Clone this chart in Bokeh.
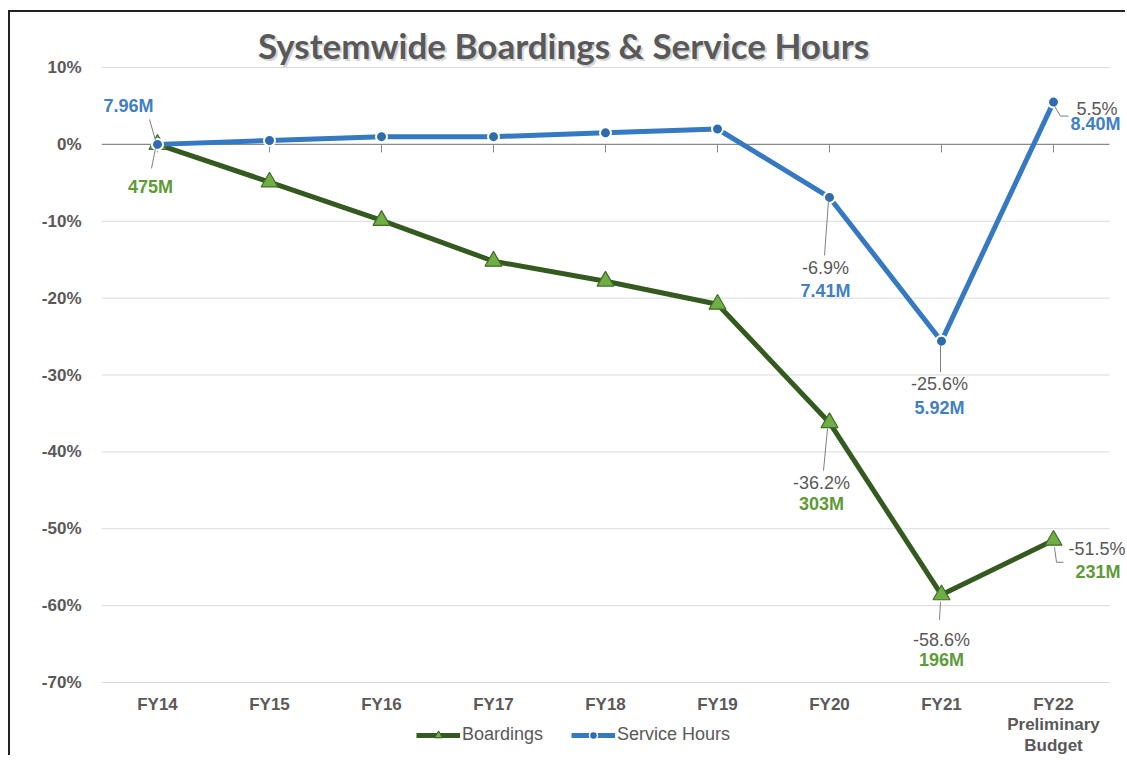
from bokeh.plotting import figure
from bokeh.models import Label, Legend, LegendItem, FixedTicker, Range1d
from bokeh.embed import file_html
from bokeh.resources import INLINE

# ---------------- data ----------------
categories = ["FY14", "FY15", "FY16", "FY17", "FY18", "FY19", "FY20", "FY21",
              "FY22\nPreliminary\nBudget"]
boardings_pct = [0.0, -4.9, -9.9, -15.2, -17.8, -20.8, -36.2, -58.6, -51.5]
service_hours_pct = [0.0, 0.5, 1.0, 1.0, 1.5, 2.0, -6.9, -25.6, 5.5]
boardings_total = ["475M", "", "", "", "", "", "303M", "196M", "231M"]
service_hours_total = ["7.96M", "", "", "", "", "", "7.41M", "5.92M", "8.40M"]
y_ticks = [10, 0, -10, -20, -30, -40, -50, -60, -70]
title_text = "Systemwide Boardings & Service Hours"

GREEN_LINE = "#345A20"
GREEN_FILL = "#70AD47"
GREEN_TEXT = "#5E9B37"
BLUE_LINE = "#3479C2"
BLUE_FILL = "#2E6BB0"
BLUE_TEXT = "#4180C5"
GRAY = "#595959"
FONT = "Liberation Sans"
NAN = float("nan")

# canvas geometry (page origin of canvas is (10, 12) because of css margin+border)
OX, OY = 10, 12
W, H = 1117, 745
ML = 101 - OX
PX_X = 112.0            # px per category
PX_Y = 615.0 / 80.0     # px per percent
Y_TOP_PX = 67 - OY      # canvas px of the 10% line
n = len(categories)
x_start = -0.5
x_end = x_start + (W - ML) / PX_X
y_top = y_ticks[0] + Y_TOP_PX / PX_Y
y_bot = y_top - H / PX_Y

xs = list(range(n))

p = figure(width=W, height=H, output_backend="svg", toolbar_location=None,
           x_range=Range1d(x_start, x_end), y_range=Range1d(y_bot, y_top),
           min_border_left=ML, min_border_right=0, min_border_top=0,
           min_border_bottom=0)
p.styles = {"margin-left": "8px", "margin-top": "10px",
            "border-left": "2px solid #222", "border-top": "2px solid #222"}
p.outline_line_color = None
p.background_fill_color = "white"
p.border_fill_color = "white"

# y axis
p.yaxis.ticker = FixedTicker(ticks=y_ticks)
p.yaxis.major_label_overrides = {t: f"{t}%" for t in y_ticks}
p.yaxis.axis_line_color = None
p.yaxis.major_tick_line_color = None
p.yaxis.minor_tick_line_color = None
p.yaxis.major_label_standoff = 14
p.yaxis.major_label_text_font = FONT
p.yaxis.major_label_text_font_style = "bold"
p.yaxis.major_label_text_font_size = "17px"
p.yaxis.major_label_text_color = GRAY

# x axis (category labels drawn under the -70% line)
p.xaxis.ticker = FixedTicker(ticks=xs)
p.xaxis.major_label_overrides = {i: c for i, c in enumerate(categories)}
p.xaxis.fixed_location = y_ticks[-1]
p.xaxis.axis_line_color = None
p.xaxis.major_tick_line_color = None
p.xaxis.minor_tick_line_color = None
p.xaxis.major_label_standoff = 6
p.xaxis.major_label_text_font = FONT
p.xaxis.major_label_text_font_style = "bold"
p.xaxis.major_label_text_font_size = "17px"
p.xaxis.major_label_text_color = GRAY
p.xaxis.major_label_text_line_height = 1.1

p.xgrid.grid_line_color = None
p.ygrid.grid_line_color = None

# horizontal gridlines limited to the category span
grid_ticks = [t for t in y_ticks if t != 0]
p.segment(x0=[x_start] * len(grid_ticks), y0=grid_ticks, x1=[n - 0.5] * len(grid_ticks),
          y1=grid_ticks, line_color="#D9D9D9", line_width=1)
# zero axis line with category ticks
p.segment(x0=[x_start], y0=[0], x1=[n - 0.5], y1=[0], line_color="#8A8A8A", line_width=1.3)
p.segment(x0=xs, y0=[0] * n, x1=xs, y1=[-8 / PX_Y] * n, line_color="#8A8A8A", line_width=1)

# series
p.line(xs, boardings_pct, line_color=GREEN_LINE, line_width=5, line_join="round")
p.scatter(xs, boardings_pct, marker="triangle", size=17, fill_color=GREEN_FILL,
          line_color="#3E6E25", line_width=1.2)
p.line(xs, service_hours_pct, line_color=BLUE_LINE, line_width=5, line_join="round")
p.scatter(xs, service_hours_pct, marker="circle", size=11, fill_color=BLUE_FILL,
          line_color="white", line_width=2)

# legend-only glyphs (smaller markers, like the reference key); NaN -> nothing drawn
b_leg_line = p.line([NAN], [NAN], line_color=GREEN_LINE, line_width=5)
b_leg = p.scatter([NAN], [NAN], marker="triangle", size=10, fill_color=GREEN_FILL,
                  line_color=GREEN_LINE)
s_leg_line = p.line([NAN], [NAN], line_color=BLUE_LINE, line_width=5)
s_leg = p.scatter([NAN], [NAN], marker="circle", size=8, fill_color=BLUE_FILL,
                  line_color="white", line_width=1.5)

legend = Legend(items=[LegendItem(label="Boardings", renderers=[b_leg_line, b_leg]),
                       LegendItem(label="Service Hours", renderers=[s_leg_line, s_leg])],
                location=(315, 12), orientation="horizontal",
                background_fill_alpha=0, border_line_color=None,
                label_text_font=FONT, label_text_font_size="18px", label_text_color=GRAY,
                glyph_width=44, glyph_height=20, label_standoff=2, spacing=28,
                padding=0, margin=0)
p.add_layout(legend, "center")


def dx(px):
    return px / PX_X


def dy(px):
    return -px / PX_Y


def add_text(x, y, text, color, bold, align="center"):
    p.add_layout(Label(x=x, y=y, text=text, text_color=color, text_font=FONT,
                       text_font_size="18px", text_font_style="bold" if bold else "normal",
                       text_align=align, text_baseline="middle"))


def leader(i, yv, pts):
    p.line([i + dx(a) for a, b in pts], [yv + dy(b) for a, b in pts],
           line_color="#7F7F7F", line_width=1)


# FY14 base values
i = 0
add_text(i + dx(-29), service_hours_pct[i] + dy(-38), service_hours_total[i], BLUE_TEXT, True)
leader(i, service_hours_pct[i], [(-2, -4), (-8, -25)])
add_text(i + dx(-7), boardings_pct[i] + dy(43), boardings_total[i], GREEN_TEXT, True)
leader(i, boardings_pct[i], [(-2, 4), (-6, 24)])

# Service hours labels
i = 6
yv = service_hours_pct[i]
add_text(i + dx(-4), yv + dy(71), f"{yv}%", GRAY, False)
add_text(i + dx(-4), yv + dy(94), service_hours_total[i], BLUE_TEXT, True)
leader(i, yv, [(-1, 3), (-5, 58)])
i = 7
yv = service_hours_pct[i]
add_text(i + dx(-2), yv + dy(43), f"{yv}%", GRAY, False)
add_text(i + dx(-2), yv + dy(67), service_hours_total[i], BLUE_TEXT, True)
leader(i, yv, [(-1, 4), (-1, 31)])
i = 8
yv = service_hours_pct[i]
add_text(i + dx(23), yv + dy(7), f"{yv}%", GRAY, False, "left")
add_text(i + dx(17), yv + dy(22), service_hours_total[i], BLUE_TEXT, True, "left")
leader(i, yv, [(1, 4), (7, 14), (15, 14)])

# Boardings labels
i = 6
yv = boardings_pct[i]
add_text(i + dx(-8), yv + dy(60), f"{yv}%", GRAY, False)
add_text(i + dx(-8), yv + dy(81), boardings_total[i], GREEN_TEXT, True)
leader(i, yv, [(-2, 6), (-6, 48)])
i = 7
yv = boardings_pct[i]
add_text(i + dx(0), yv + dy(45), f"{yv}%", GRAY, False)
add_text(i + dx(0), yv + dy(65), boardings_total[i], GREEN_TEXT, True)
leader(i, yv, [(-1, 7), (-2, 25)])
i = 8
yv = boardings_pct[i]
add_text(i + dx(15), yv + dy(9), f"{yv}%", GRAY, False, "left")
add_text(i + dx(22), yv + dy(32), boardings_total[i], GREEN_TEXT, True, "left")
leader(i, yv, [(1, 7), (3, 22), (10, 22)])

# title (with soft shadow)
tx = x_start + dx(563 - 101)
ty = y_ticks[0] + (67 - 44) / PX_Y
p.add_layout(Label(x=tx, y=ty, x_offset=2, y_offset=-2, text=title_text, text_color="#BBBBBB",
                   text_alpha=0.6, text_font="Lato", text_font_style="bold",
                   text_font_size="35px", text_align="center", text_baseline="middle"))
p.add_layout(Label(x=tx, y=ty, text=title_text, text_color=GRAY, text_font="Lato",
                   text_font_style="bold", text_font_size="35px", text_align="center",
                   text_baseline="middle"))

open("out.html", "w").write(file_html(p, INLINE))
